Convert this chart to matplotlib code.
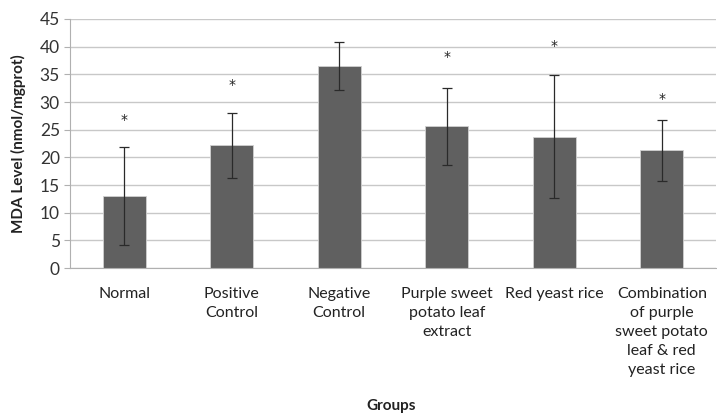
import matplotlib.pyplot as plt
import numpy as np

plt.rcParams['font.family'] = ['Lato', 'DejaVu Sans']

groups = ['Normal', 'Positive\nControl', 'Negative\nControl',
          'Purple sweet\npotato leaf\nextract', 'Red yeast rice',
          'Combination\nof purple\nsweet potato\nleaf & red\nyeast rice']
mda = [13.0, 22.2, 36.5, 25.6, 23.7, 21.3]
sd = [8.8, 5.9, 4.4, 7.0, 11.1, 5.5]
star_y = [26.7, 33.1, None, 38.1, 40.2, 30.5]

fig = plt.figure(figsize=(7.17, 4.13), dpi=100)
ax = fig.add_axes([0.098, 0.351, 0.9, 0.603])

x = np.arange(len(groups))
ax.bar(x, mda, width=0.4, color='#606060', edgecolor='#d0d0d0', linewidth=0.6, zorder=2)
ax.errorbar(x, mda, yerr=sd, fmt='none', ecolor='#2a2a2a', elinewidth=0.9,
            capsize=3.5, capthick=0.9, zorder=3)
for xi, sy in zip(x, star_y):
    if sy is not None:
        ax.text(xi, sy, '*', ha='center', va='center', fontsize=10,
                family='DejaVu Sans', color='#222222')

ax.set_xlim(-0.5, len(groups) - 0.5)
ax.set_ylim(0, 45)
ax.set_yticks(range(0, 46, 5))
ax.yaxis.grid(True, color='#c8c8c8', linewidth=1.0, zorder=0)
ax.set_axisbelow(True)
for s in ['top', 'right']:
    ax.spines[s].set_visible(False)
ax.spines['left'].set_color('#b0b0b0')
ax.spines['bottom'].set_color('#b0b0b0')
ax.tick_params(axis='y', length=4, color='#b0b0b0', labelsize=12.5, labelcolor='#333333')
ax.tick_params(axis='x', length=0, labelsize=11.5, labelcolor='#222222', pad=14)
ax.set_xticks(x)
ax.set_xticklabels(groups, linespacing=1.45)
ax.set_ylabel('MDA Level (nmol/mgprot)', fontsize=11, fontweight='bold', color='#222222')
ax.yaxis.set_label_coords(-0.068, 0.5)
fig.text(0.545, 0.0, 'Groups', ha='center', va='bottom', fontsize=11, fontweight='bold', color='#222222')

fig.savefig('out.png', dpi=100)
